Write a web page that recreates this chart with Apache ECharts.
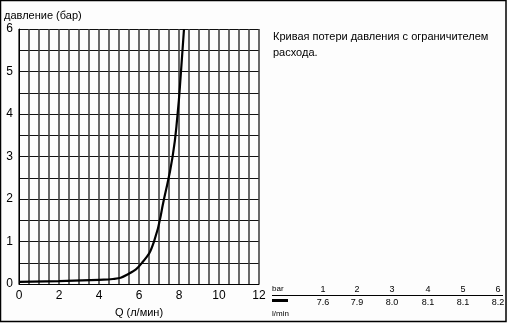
<!DOCTYPE html>
<html><head><meta charset="utf-8">
<script src="https://cdn.jsdelivr.net/npm/echarts@6/dist/echarts.min.js"></script>
<style>html,body{margin:0;padding:0;background:#fdfdfd}#c{width:508px;height:323px}</style>
</head><body><div id="c"></div>
<script>
// Curve: flow Q (l/min) vs pressure (bar)
const flowQ =    [0,    2,    4,   4.7,  5.4,  6.15, 6.75, 7.25, 7.68, 7.93, 8.1, 8.25];
const pressure = [0.05, 0.07, 0.1, 0.12, 0.22, 0.5,  1.0,  2.0,  3.0,  4.0,  5.0, 6.0];
const xTicks = [0, 2, 4, 6, 8, 10, 12];
const yTicks = [0, 1, 2, 3, 4, 5, 6];
const tableBar = ['1', '2', '3', '4', '5', '6'];
const tableFlow = ['7.6', '7.9', '8.0', '8.1', '8.1', '8.2'];
const yAxisTitle = 'давление (бар)';
const xAxisTitle = 'Q (л/мин)';
const noteLines = ['Кривая потери давления с ограничителем', 'расхода.'];

const font = '"Liberation Sans", Arial, sans-serif';
const chart = echarts.init(document.getElementById('c'), null, {renderer: 'canvas'});
const colX = [323, 357, 392, 428, 463, 498];
const graphics = [
  {type: 'rect', shape: {x: 0.5, y: 0.5, width: 505.5, height: 321}, style: {fill: 'none', stroke: '#000', lineWidth: 1.5}, z: 10},
  {type: 'text', x: 4, y: 10, style: {text: yAxisTitle, font: '11px ' + font, fill: '#000'}},
  {type: 'text', x: 273, y: 31, style: {text: noteLines[0], font: '11px ' + font, fill: '#000'}},
  {type: 'text', x: 273, y: 47, style: {text: noteLines[1], font: '11px ' + font, fill: '#000'}},
  {type: 'text', x: 272, y: 285, style: {text: 'bar', font: '8px ' + font, fill: '#000'}},
  {type: 'text', x: 272, y: 310, style: {text: 'l/min', font: '8px ' + font, fill: '#000'}},
  {type: 'line', shape: {x1: 272, y1: 295.5, x2: 503, y2: 295.5}, style: {stroke: '#000', lineWidth: 1}},
  {type: 'line', shape: {x1: 272, y1: 300.5, x2: 288, y2: 300.5}, style: {stroke: '#000', lineWidth: 3}}
];
tableBar.forEach((t, i) => graphics.push({type: 'text', x: colX[i], y: 285, style: {text: t, font: '9px ' + font, fill: '#000', align: 'center'}}));
tableFlow.forEach((t, i) => graphics.push({type: 'text', x: colX[i], y: 298, style: {text: t, font: '9px ' + font, fill: '#000', align: 'center'}}));

chart.setOption({
  backgroundColor: '#fdfdfd',
  animation: false,
  grid: {left: 19, right: 249, top: 29, bottom: 33, containLabel: false},
  xAxis: {
    type: 'value', min: 0, max: 12, interval: 0.5,
    name: xAxisTitle, nameLocation: 'middle', nameGap: 22,
    nameTextStyle: {fontFamily: font, fontSize: 11, color: '#000'},
    axisLine: {show: true, lineStyle: {color: '#000', width: 1}},
    axisTick: {show: false},
    axisLabel: {fontFamily: font, fontSize: 12, color: '#000', margin: 6,
      formatter: v => xTicks.includes(v) ? String(v) : ''},
    splitLine: {show: true, lineStyle: {color: '#444', width: 1.6}}
  },
  yAxis: {
    type: 'value', min: 0, max: 6, interval: 0.5,
    axisLine: {show: true, lineStyle: {color: '#000', width: 1}},
    axisTick: {show: false},
    axisLabel: {fontFamily: font, fontSize: 12, color: '#000', margin: 6,
      formatter: v => yTicks.includes(v) ? String(v) : ''},
    splitLine: {show: true, lineStyle: {color: '#111', width: 1}}
  },
  series: [{
    type: 'line', smooth: 0.5, symbol: 'none', clip: false,
    data: flowQ.map((q, i) => [q, pressure[i]]),
    lineStyle: {color: '#000', width: 2.2}
  }],
  graphic: graphics
});
</script></body></html>
